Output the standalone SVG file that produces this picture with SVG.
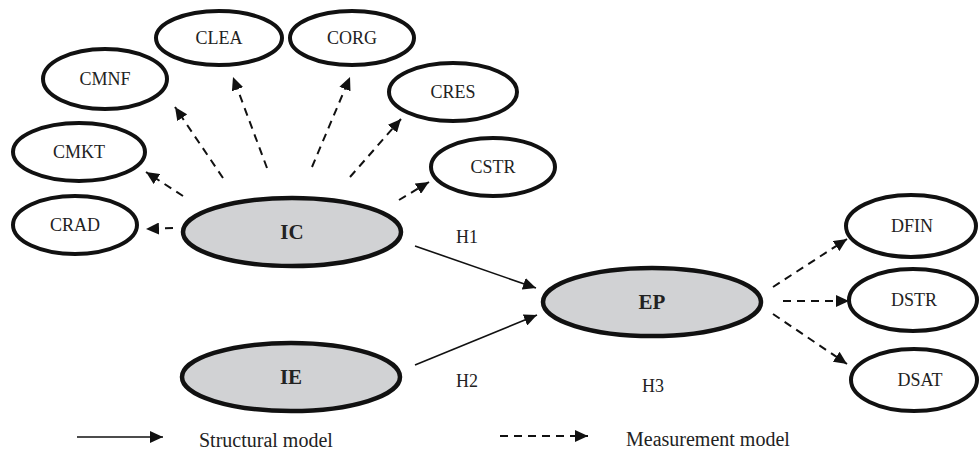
<svg xmlns="http://www.w3.org/2000/svg" width="980" height="451" viewBox="0 0 980 451">
<style>
.ind{fill:#fff;stroke:#111;stroke-width:4}
.lat{fill:#d1d2d4;stroke:#111;stroke-width:4.5}
text{font-family:'Liberation Serif','DejaVu Serif',serif;fill:#222}
.t{font-size:18px;text-anchor:middle}
.b{font-size:21px;font-weight:bold;text-anchor:middle}
.lg{font-size:20px}
.d{stroke:#111;stroke-width:2;stroke-dasharray:8 6;fill:none}
.s{stroke:#111;stroke-width:1.6;fill:none}
</style>
<defs>
<marker id="ah" markerUnits="userSpaceOnUse" markerWidth="14" markerHeight="12" refX="13" refY="6" orient="auto">
<path d="M0,0 L13,6 L0,12 z" fill="#111"/>
</marker>
</defs>
<g id="connectors">
<line class="d" x1="173" y1="228" x2="146" y2="229" marker-end="url(#ah)"/>
<line class="d" x1="183" y1="196" x2="146" y2="172" marker-end="url(#ah)"/>
<line class="d" x1="223" y1="178" x2="175" y2="107" marker-end="url(#ah)"/>
<line class="d" x1="267" y1="168" x2="233" y2="77" marker-end="url(#ah)"/>
<line class="d" x1="312" y1="167" x2="350" y2="77" marker-end="url(#ah)"/>
<line class="d" x1="350" y1="177" x2="401" y2="119" marker-end="url(#ah)"/>
<line class="d" x1="399" y1="200" x2="429" y2="182" marker-end="url(#ah)"/>
<line class="s" x1="415" y1="246" x2="536" y2="288" marker-end="url(#ah)"/>
<line class="s" x1="415" y1="365" x2="537" y2="315" marker-end="url(#ah)"/>
<line class="d" x1="773" y1="287" x2="847" y2="239" marker-end="url(#ah)"/>
<line class="d" x1="783" y1="301" x2="849" y2="301" marker-end="url(#ah)"/>
<line class="d" x1="773" y1="314" x2="847" y2="364" marker-end="url(#ah)"/>
</g>
<g id="CLEA"><ellipse class="ind" cx="219" cy="38" rx="63" ry="27"/><text class="t" x="219" y="44">CLEA</text></g>
<g id="CORG"><ellipse class="ind" cx="352" cy="38" rx="62" ry="27"/><text class="t" x="352" y="44">CORG</text></g>
<g id="CMNF"><ellipse class="ind" cx="105" cy="79" rx="62" ry="30"/><text class="t" x="105" y="85">CMNF</text></g>
<g id="CRES"><ellipse class="ind" cx="453" cy="92" rx="64" ry="29"/><text class="t" x="453" y="98">CRES</text></g>
<g id="CMKT"><ellipse class="ind" cx="79" cy="152" rx="66" ry="29"/><text class="t" x="79" y="158">CMKT</text></g>
<g id="CSTR"><ellipse class="ind" cx="493" cy="167" rx="62" ry="29"/><text class="t" x="493" y="173">CSTR</text></g>
<g id="CRAD"><ellipse class="ind" cx="75" cy="225" rx="62" ry="29"/><text class="t" x="75" y="231">CRAD</text></g>
<g id="IC"><ellipse class="lat" cx="292" cy="232" rx="109" ry="34"/><text class="b" x="292" y="239">IC</text></g>
<g id="IE"><ellipse class="lat" cx="291" cy="377" rx="109" ry="34"/><text class="b" x="291" y="384">IE</text></g>
<g id="EP"><ellipse class="lat" cx="652" cy="302" rx="109" ry="34"/><text class="b" x="652" y="309">EP</text></g>
<g id="DFIN"><ellipse class="ind" cx="911" cy="226" rx="65" ry="31"/><text class="t" x="912" y="232">DFIN</text></g>
<g id="DSTR"><ellipse class="ind" cx="913" cy="300" rx="64" ry="31"/><text class="t" x="914" y="306">DSTR</text></g>
<g id="DSAT"><ellipse class="ind" cx="914" cy="380" rx="63" ry="31"/><text class="t" x="920" y="386">DSAT</text></g>
<g id="labels">
<text class="t" x="467" y="243">H1</text>
<text class="t" x="467" y="387">H2</text>
<text class="t" x="653" y="392">H3</text>
</g>
<g id="legend">
<line class="s" x1="77" y1="437" x2="163" y2="437" marker-end="url(#ah)"/>
<text class="lg" x="199" y="447">Structural model</text>
<line class="d" x1="500" y1="436" x2="588" y2="436" marker-end="url(#ah)"/>
<text class="lg" x="626" y="446">Measurement model</text>
</g>
</svg>
